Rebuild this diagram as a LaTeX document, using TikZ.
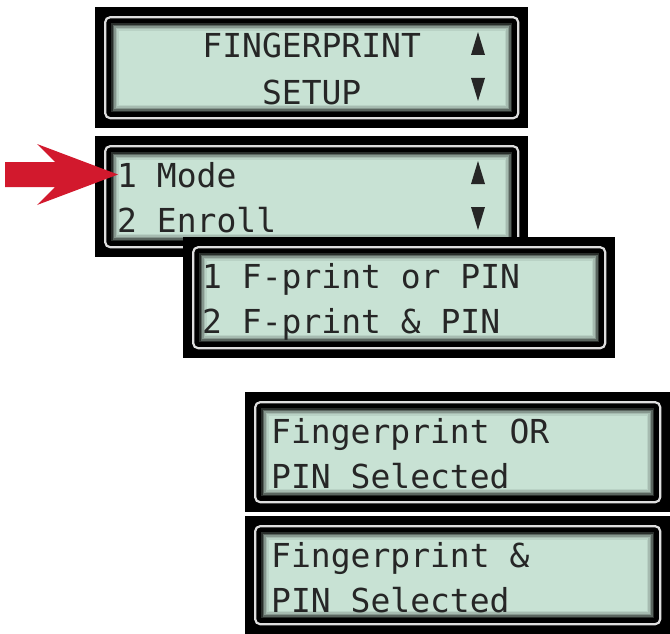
\documentclass[tikz,border=0pt]{standalone}
\usepackage{fontspec}
\setmonofont{DejaVu Sans Mono}
\usetikzlibrary{positioning}
\definecolor{Screen}{RGB}{200,226,212}
\definecolor{Rim}{RGB}{222,222,222}
\definecolor{Red}{RGB}{210,25,45}

\begin{document}
\begin{tikzpicture}[
    x=1pt, y=-1pt,
    lcd/.style={fill=black, inner sep=0pt, anchor=north west, path picture={
        \draw[Rim, line width=2.2pt, rounded corners=5pt]
          ([shift={(10pt,-10pt)}]path picture bounding box.north west) rectangle
          ([shift={(-10pt,10pt)}]path picture bounding box.south east);
        \fill[Screen]
          ([shift={(16pt,-16pt)}]path picture bounding box.north west) rectangle
          ([shift={(-16pt,16pt)}]path picture bounding box.south east);
        \foreach \inset/\op in {16.75/0.8,18.25/0.55,19.75/0.33,21.25/0.17,22.75/0.07} {
          \draw[black, opacity=\op, line width=1.5pt]
            ([shift={(\inset pt,-\inset pt)}]path picture bounding box.north west) rectangle
            ([shift={(-\inset pt,\inset pt)}]path picture bounding box.south east);
        }
    }},
    lcdtext/.style={inner sep=0pt, text=black!85, font=\ttfamily\fontsize{33}{33}\selectfont}
]
  \useasboundingbox (0,0) rectangle (670,634);

  % screens
  \node[lcd, minimum width=433pt, minimum height=121pt] (setup) at (95,7) {};
  \node[lcd, minimum width=433pt, minimum height=121pt] (menu) at (95,136) {};
  \node[lcd, minimum width=432pt, minimum height=121pt] (modes) at (183,237) {};
  \node[lcd, minimum width=425pt, minimum height=120pt] (orsel) at (245,392) {};
  \node[lcd, minimum width=425pt, minimum height=118pt] (andsel) at (245,516) {};

  \node[lcdtext, anchor=base] (title) at ([yshift=-51pt]setup.north) {FINGERPRINT};
  \node[lcdtext, anchor=base] (subtitle) at ([yshift=-97pt]setup.north) {SETUP};

  \node[lcdtext, anchor=base west] (mode) at ([shift={(22pt,-51pt)}]menu.north west) {1 Mode};
  \node[lcdtext, anchor=base west] (enroll) at ([shift={(22pt,-96pt)}]menu.north west) {2 Enroll};

  \node[lcdtext, anchor=base west] (orpin) at ([shift={(19pt,-51pt)}]modes.north west) {1 F-print or PIN};
  \node[lcdtext, anchor=base west] (andpin) at ([shift={(19pt,-96pt)}]modes.north west) {2 F-print \& PIN};

  \node[lcdtext, anchor=base west] (orline) at ([shift={(26pt,-51pt)}]orsel.north west) {Fingerprint OR};
  \node[lcdtext, anchor=base west] (orsub) at ([shift={(26pt,-96pt)}]orsel.north west) {PIN Selected};

  \node[lcdtext, anchor=base west] (andline) at ([shift={(26pt,-51pt)}]andsel.north west) {Fingerprint \&};
  \node[lcdtext, anchor=base west] (andsub) at ([shift={(26pt,-96pt)}]andsel.north west) {PIN Selected};

  % scroll marks
  \foreach \p in {setup,menu} {
    \fill[black!85] ([shift={(383pt,-25pt)}]\p.north west) -- ++(7pt,-23pt) -- ++(-14pt,0pt) -- cycle;
    \fill[black!85] ([shift={(376pt,-71pt)}]\p.north west) -- ++(14pt,0pt) -- ++(-7pt,-23pt) -- cycle;
  }

  % pointer
  \coordinate (tip) at (118,174.5);
  \fill[Red] (5,162) -- (55,162) -- (37,144) -- (tip) -- (37,205) -- (55,187) -- (5,187) -- cycle;
\end{tikzpicture}
\end{document}
